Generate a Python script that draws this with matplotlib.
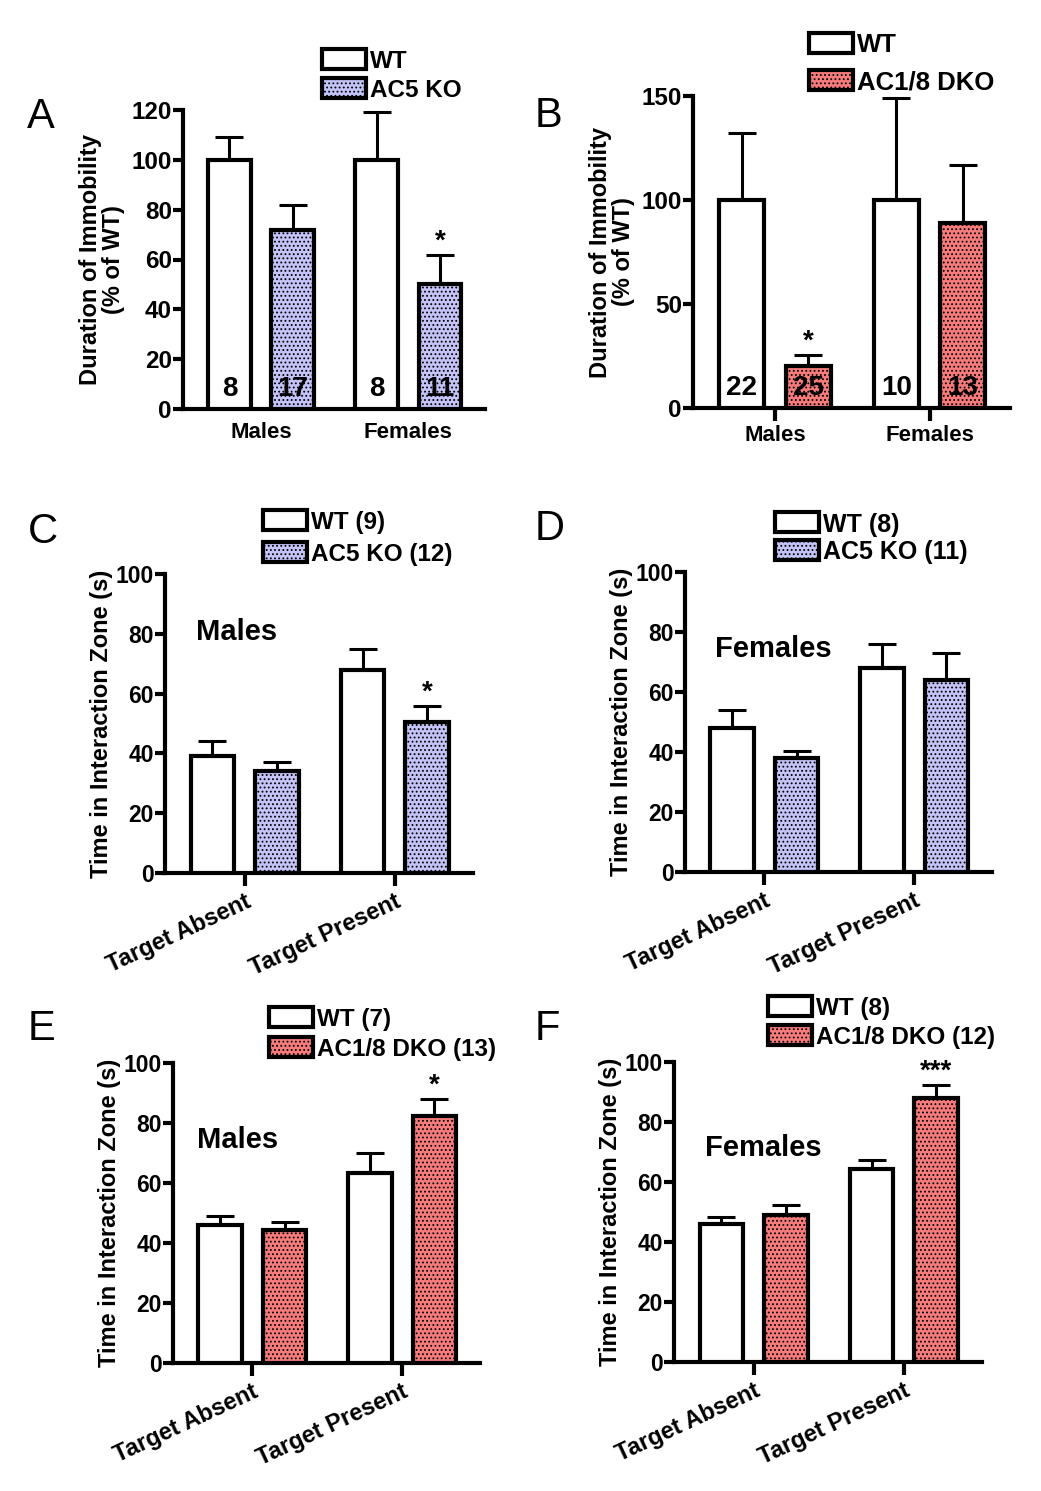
import matplotlib
matplotlib.use("Agg")
import matplotlib.pyplot as plt
import numpy as np
from matplotlib.patches import Rectangle

plt.rcParams["font.family"] = ["Liberation Sans", "DejaVu Sans"]
plt.rcParams["font.weight"] = "bold"
plt.rcParams["hatch.linewidth"] = 0.8

# ── data ──────────────────────────────────────────────────────────────────────

sex_groups = ["Males", "Females"]
zone_groups = ["Target Absent", "Target Present"]

# A: forced swim, AC5 KO
a_wt_mean, a_wt_sem, a_wt_n = [100, 100], [9, 19], [8, 8]
a_ko_mean, a_ko_sem, a_ko_n = [72, 50], [10, 12], [17, 11]
a_stars = ["", "*"]

# B: forced swim, AC1/8 DKO
b_wt_mean, b_wt_sem, b_wt_n = [100, 100], [32, 49], [22, 10]
b_ko_mean, b_ko_sem, b_ko_n = [20, 89], [5.5, 28], [25, 13]
b_stars = ["*", ""]

# C-F: social interaction
c_wt_mean, c_wt_sem = [39, 68], [5, 7]
c_ko_mean, c_ko_sem = [34, 50.5], [3, 5.5]
c_stars = ["", "*"]

d_wt_mean, d_wt_sem = [48, 68], [6, 8]
d_ko_mean, d_ko_sem = [38, 64], [2.5, 9]
d_stars = ["", ""]

e_wt_mean, e_wt_sem = [46, 63.5], [3, 6.5]
e_ko_mean, e_ko_sem = [44.5, 82.5], [2.5, 5.5]
e_stars = ["", "*"]

f_wt_mean, f_wt_sem = [46, 64.5], [2.5, 3]
f_ko_mean, f_ko_sem = [49, 88], [3.5, 4.5]
f_stars = ["", "***"]

AC5_COLOR = "#c3c3f7"
DKO_COLOR = "#f77b7b"

W, H = 1041, 1491
fig = plt.figure(figsize=(W / 100, H / 100), dpi=100)


def px_axes(left, top, right, bottom):
    return fig.add_axes([left / W, 1 - bottom / H, (right - left) / W, (bottom - top) / H])


def draw_key(x, yc, label, color, hatch, size=17.5, bw=44, bh=20):
    fig.add_artist(Rectangle((x / W, 1 - (yc + bh / 2) / H), bw / W, bh / H,
                             transform=fig.transFigure, facecolor=color,
                             edgecolor="black", linewidth=3, hatch=hatch))
    fig.text((x + bw + 4) / W, 1 - yc / H, label, fontsize=size, fontweight="bold",
             va="center_baseline", ha="left")


def panel(ax, cats, wt_mean, wt_sem, ko_mean, ko_sem, ko_color, ymax, yticks,
          stars, ylabel, xtick_marks=True, rotate=False, wt_n=None, ko_n=None,
          ysize=17, labelpad=5):
    x = np.arange(len(cats))
    off, bw = 0.215, 0.29
    ax.errorbar(x - off, wt_mean, yerr=wt_sem, fmt="none", ecolor="black",
                elinewidth=2.2, capsize=10, capthick=2.2, zorder=2)
    ax.errorbar(x + off, ko_mean, yerr=ko_sem, fmt="none", ecolor="black",
                elinewidth=2.2, capsize=10, capthick=2.2, zorder=2)
    ax.bar(x - off, wt_mean, bw, color="white", edgecolor="black", linewidth=3, zorder=3)
    ax.bar(x + off, ko_mean, bw, color=ko_color, edgecolor="black", linewidth=3,
           hatch="....", zorder=3)

    for xi, m, s, st in zip(x + off, ko_mean, ko_sem, stars):
        if st:
            ax.annotate(st, (xi, m + s), xytext=(0, 0), textcoords="offset points",
                        ha="center", va="bottom", fontsize=20, fontweight="bold")
    if wt_n is not None:
        for xi, n in zip(x - off, wt_n):
            ax.annotate(str(n), (xi, 0), xytext=(0, 5), textcoords="offset points",
                        ha="center", va="bottom", fontsize=20, fontweight="bold", zorder=5)
        for xi, n in zip(x + off, ko_n):
            ax.annotate(str(n), (xi, 0), xytext=(0, 5), textcoords="offset points",
                        ha="center", va="bottom", fontsize=20, fontweight="bold", zorder=5)

    ax.set_xlim(-0.53, 1.52)
    ax.set_ylim(0, ymax)
    ax.set_yticks(yticks)
    ax.set_xticks(x)
    if rotate:
        ax.set_xticklabels(cats, rotation=25, ha="right", rotation_mode="anchor")
    else:
        ax.set_xticklabels(cats)
    ax.spines[["top", "right"]].set_visible(False)
    ax.spines[["left", "bottom"]].set_linewidth(3)
    ax.tick_params(axis="y", width=3, length=7, labelsize=ysize, pad=1)
    ax.tick_params(axis="x", width=3, length=9 if xtick_marks else 0,
                   labelsize=17 if rotate else 16, pad=3 if xtick_marks else 9)
    ax.set_ylabel(ylabel, fontsize=17, fontweight="bold", linespacing=1.0,
                  labelpad=labelpad)
    ax.patch.set_visible(False)


# A
axA = px_axes(183, 110, 485, 409)
panel(axA, sex_groups, a_wt_mean, a_wt_sem, a_ko_mean, a_ko_sem, AC5_COLOR, 120,
      np.arange(0, 121, 20), a_stars, "Duration of Immobility\n(% of WT)",
      xtick_marks=False, wt_n=a_wt_n, ko_n=a_ko_n, ysize=17.5)
draw_key(322, 59, "WT", "white", None)
draw_key(322, 88, "AC5 KO", AC5_COLOR, "....")

# B
axB = px_axes(693, 96, 1010, 408)
panel(axB, sex_groups, b_wt_mean, b_wt_sem, b_ko_mean, b_ko_sem, DKO_COLOR, 150,
      [0, 50, 100, 150], b_stars, "Duration of Immobility\n(% of WT)",
      wt_n=b_wt_n, ko_n=b_ko_n, ysize=17.5)
draw_key(809, 43, "WT", "white", None, size=18.5)
draw_key(809, 80, "AC1/8 DKO", DKO_COLOR, "....", size=18.5)

# C
axC = px_axes(165, 574, 473, 873)
panel(axC, zone_groups, c_wt_mean, c_wt_sem, c_ko_mean, c_ko_sem, AC5_COLOR, 100,
      np.arange(0, 101, 20), c_stars, "Time in Interaction Zone (s)", rotate=True,
      ysize=16.5, labelpad=2)
axC.text(0.10, 0.78, "Males", transform=axC.transAxes, fontsize=21, fontweight="bold")
draw_key(263, 520, "WT (9)", "white", None)
draw_key(263, 552, "AC5 KO (12)", AC5_COLOR, "....")

# D
axD = px_axes(685, 572, 992, 872)
panel(axD, zone_groups, d_wt_mean, d_wt_sem, d_ko_mean, d_ko_sem, AC5_COLOR, 100,
      np.arange(0, 101, 20), d_stars, "Time in Interaction Zone (s)", rotate=True,
      ysize=16.5, labelpad=2)
axD.text(0.098, 0.717, "Females", transform=axD.transAxes, fontsize=21, fontweight="bold")
draw_key(775, 522, "WT (8)", "white", None, size=18)
draw_key(775, 550, "AC5 KO (11)", AC5_COLOR, "....", size=18)

# E
axE = px_axes(173, 1063, 480, 1363)
panel(axE, zone_groups, e_wt_mean, e_wt_sem, e_ko_mean, e_ko_sem, DKO_COLOR, 100,
      np.arange(0, 101, 20), e_stars, "Time in Interaction Zone (s)", rotate=True,
      ysize=16.5, labelpad=2)
axE.text(0.078, 0.717, "Males", transform=axE.transAxes, fontsize=21, fontweight="bold")
draw_key(269, 1017, "WT (7)", "white", None)
draw_key(269, 1047, "AC1/8 DKO (13)", DKO_COLOR, "....")

# F
axF = px_axes(674, 1062, 982, 1362)
panel(axF, zone_groups, f_wt_mean, f_wt_sem, f_ko_mean, f_ko_sem, DKO_COLOR, 100,
      np.arange(0, 101, 20), f_stars, "Time in Interaction Zone (s)", rotate=True,
      ysize=16.5, labelpad=2)
axF.text(0.10, 0.687, "Females", transform=axF.transAxes, fontsize=21, fontweight="bold")
draw_key(768, 1006, "WT (8)", "white", None)
draw_key(768, 1035, "AC1/8 DKO (12)", DKO_COLOR, "....")

# panel letters
for letter, (lx, ly) in zip("ABCDEF", [(27, 128), (535, 127), (28, 543),
                                        (535, 540), (28, 1040), (535, 1040)]):
    fig.text(lx / W, 1 - ly / H, letter, fontsize=30, fontweight="normal",
             ha="left", va="baseline")

fig.savefig("out.png", dpi=100)
